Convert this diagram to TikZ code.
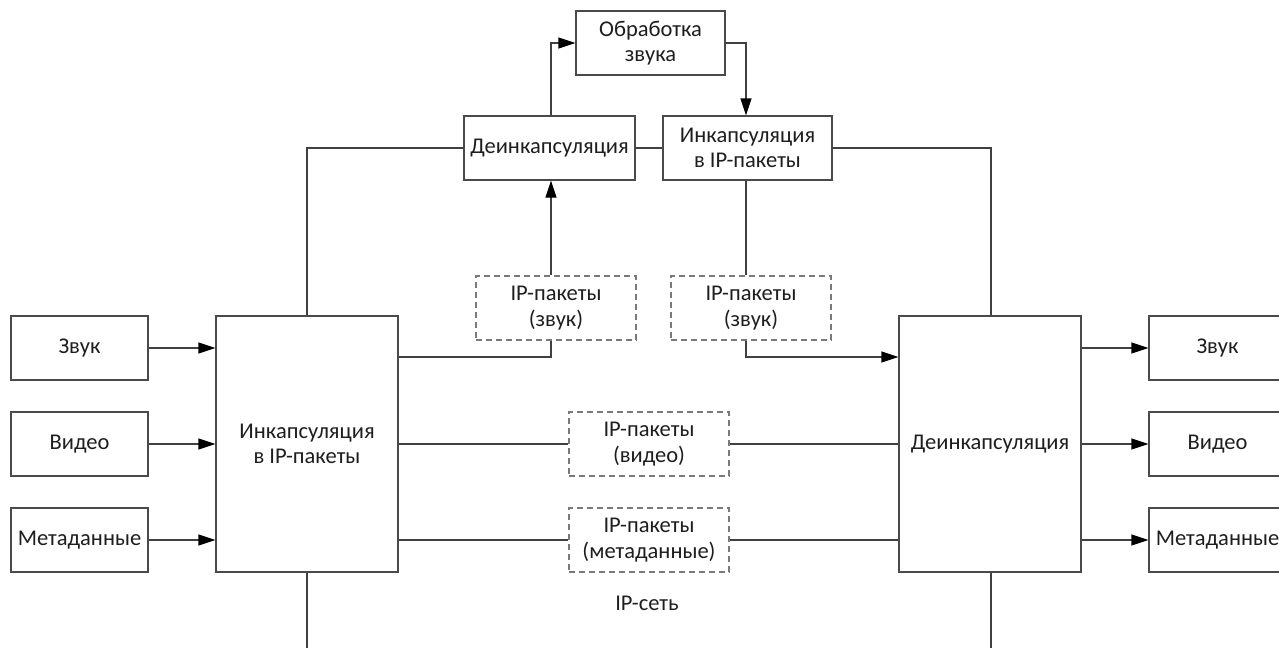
\documentclass[tikz,border=0pt]{standalone}
\usepackage{fontspec}
\setmainfont{Carlito}
\usetikzlibrary{arrows.meta}
\definecolor{boxgray}{HTML}{4A4A4A}
\definecolor{dashgray}{HTML}{7A7A7A}
\definecolor{linegray}{HTML}{404040}
\definecolor{txt}{HTML}{1E1E1E}
\begin{document}
\begin{tikzpicture}[x=1pt,y=-1pt,
  box/.style={draw=boxgray, line width=1.2pt, fill=white, text=txt, align=center,
    inner sep=0pt, font=\fontsize{22.5}{25.5}\selectfont},
  small/.style={box, minimum width=137pt, minimum height=64pt},
  dbox/.style={box, draw=dashgray, dash pattern=on 6pt off 4pt,
    minimum width=160pt, minimum height=64pt},
  wire/.style={draw=linegray, line width=1.2pt},
  arr/.style={wire, -{Triangle[length=17pt,width=11pt,color=black]}}]
\useasboundingbox (0,0) rectangle (1279,648);

% sources
\node[small] (in1) at (79.5,348) {Звук};
\node[small] (in2) at (79.5,444) {Видео};
\node[small] (in3) at (79.5,540) {Метаданные};

% main encapsulation / decapsulation blocks
\node[box, minimum width=182pt, minimum height=256pt] (enc) at (307,444) {Инкапсуляция\\в IP-пакеты};
\node[box, minimum width=182pt, minimum height=256pt] (dec) at (990,444) {Деинкапсуляция};

% outputs
\node[small] (out1) at (1217.5,348) {Звук};
\node[small] (out2) at (1217.5,444) {Видео};
\node[small] (out3) at (1217.5,540) {Метаданные};

% audio processing branch
\node[box, minimum width=149pt, minimum height=64pt] (proc) at (650.5,43) {Обработка\\звука};
\node[box, minimum width=171pt, minimum height=64pt] (tdec) at (549.5,148) {Деинкапсуляция};
\node[box, minimum width=169pt, minimum height=64pt] (tenc) at (747.5,148) {Инкапсуляция\\в IP-пакеты};

% packet streams
\node[dbox] (pa1) at (556,308) {IP-пакеты\\(звук)};
\node[dbox] (pa2) at (751,308) {IP-пакеты\\(звук)};
\node[dbox] (pv) at (649,444) {IP-пакеты\\(видео)};
\node[dbox] (pm) at (649,540) {IP-пакеты\\(метаданные)};

\node[text=txt, font=\fontsize{22.5}{25.5}\selectfont] (net) at (647,603) {IP-сеть};

\coordinate (encEnd) at (307,648);
\coordinate (decEnd) at (991,648);

% inputs and outputs
\foreach \i in {1,2,3} {
  \draw[arr] (in\i.east) -- (in\i.east -| enc.west);
  \draw[arr] (out\i.west -| dec.east) -- (out\i.west);
}

% network backbone
\draw[wire] (tdec.west) -| (enc.north);
\draw[wire] (enc.south) -- (encEnd);
\draw[wire] (tenc.east) -| (dec.north -| decEnd);
\draw[wire] (dec.south -| decEnd) -- (decEnd);
\draw[wire] (tdec.east) -- (tenc.west);

% audio loop
\draw[arr] (tdec.north -| 551,0) |- (proc.west);
\draw[arr] (proc.east) -| (tenc.north -| 746,0);
\draw[wire] (enc.east |- 0,357) -| (pa1.south -| 551,0);
\draw[arr] (pa1.north -| 551,0) -- (tdec.south -| 551,0);
\draw[wire] (tenc.south -| 746,0) -- (pa2.north -| 746,0);
\draw[arr] (pa2.south -| 746,0) |- (dec.west |- 0,357);

% video and metadata streams
\draw[wire] (enc.east |- pv.west) -- (pv.west);
\draw[wire] (pv.east) -- (dec.west |- pv.east);
\draw[wire] (enc.east |- pm.west) -- (pm.west);
\draw[wire] (pm.east) -- (dec.west |- pm.east);
\end{tikzpicture}
\end{document}
